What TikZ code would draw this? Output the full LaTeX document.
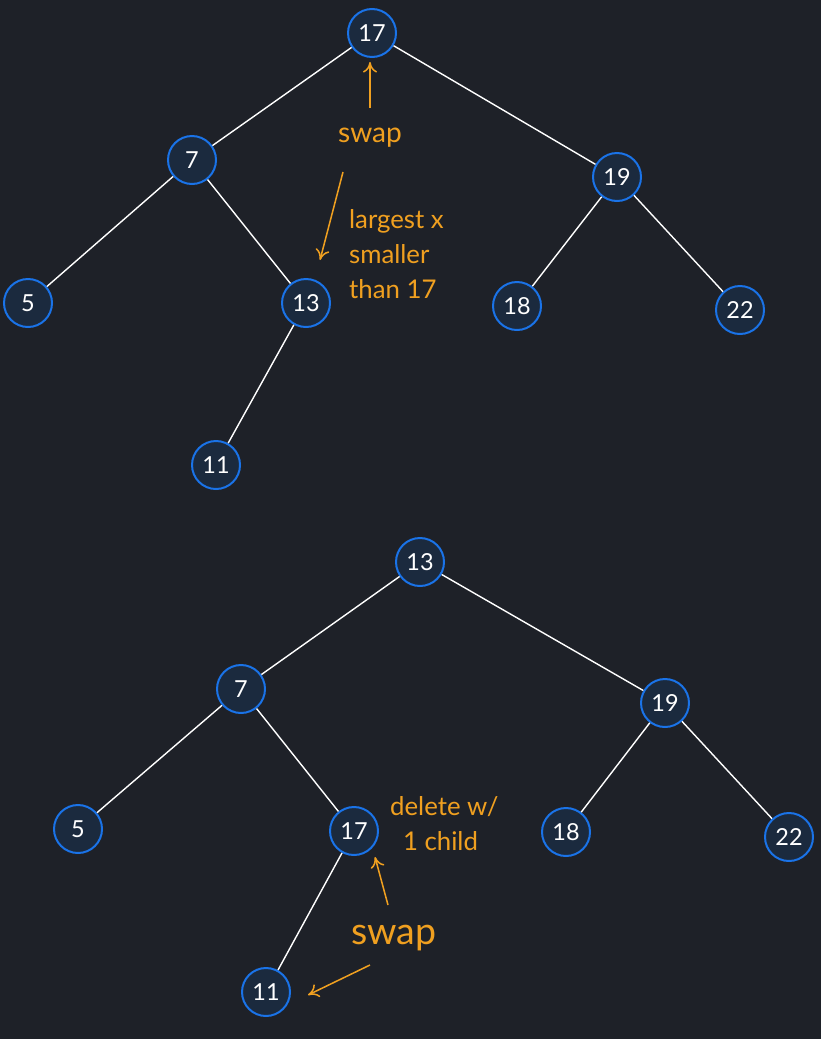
\documentclass[tikz,border=0pt]{standalone}
\usepackage{fontspec}
\setmainfont{Lato}
\usepackage{tikz}
\usetikzlibrary{arrows.meta}

\definecolor{bgdark}{HTML}{1E2128}
\definecolor{nodefill}{HTML}{1B2A3E}
\definecolor{nodeblue}{HTML}{1A73E8}
\definecolor{notecol}{HTML}{F0A020}

\tikzset{
	key/.style={circle, draw=nodeblue, fill=nodefill, line width=1.7pt, minimum size=1.44cm, inner sep=0pt, text=white, font=\fontsize{20}{24}\selectfont},
	link/.style={draw=white, line width=1.2pt},
	note/.style={text=notecol, font=\fontsize{22}{30}\selectfont, align=left},
	pointer/.style={draw=notecol, line width=1.3pt, -{To[length=9pt,width=12pt]}}
}

\begin{document}
\begin{tikzpicture}[x=0.03cm, y=-0.03cm]
	\fill[bgdark] (0,0) rectangle (821,1039);
	\useasboundingbox (0,0) rectangle (821,1039);

	% tree before deletion
	\node[key] (A17) at (372,33) {17};
	\node[key] (A7) at (192,160) {7};
	\node[key] (A19) at (617,177) {19};
	\node[key] (A5) at (28,303) {5};
	\node[key] (A13) at (306,303) {13};
	\node[key] (A18) at (517,306) {18};
	\node[key] (A22) at (740,310) {22};
	\node[key] (A11) at (216,465) {11};

	\draw[link] (A17) -- (A7);
	\draw[link] (A17) -- (A19);
	\draw[link] (A7) -- (A5);
	\draw[link] (A7) -- (A13);
	\draw[link] (A13) -- (A11);
	\draw[link] (A19) -- (A18);
	\draw[link] (A19) -- (A22);

	\node[note, font=\fontsize{24}{30}\selectfont] (swapA) at (370,138) {swap};
	\node[note, anchor=west] (largest) at (345,254) {largest x\\smaller\\than 17};
	\coordinate (upTail) at (370,108);
	\coordinate (upHead) at (370,62);
	\coordinate (downA) at (343,172);
	\coordinate (downB) at (320,260);
	\draw[pointer] (upTail) -- (upHead);
	\draw[pointer] (downA) -- (downB);

	% tree after deletion
	\node[key] (B13) at (420,562) {13};
	\node[key] (B7) at (241,689) {7};
	\node[key] (B19) at (665,703) {19};
	\node[key] (B5) at (78,829) {5};
	\node[key] (B17) at (354,831) {17};
	\node[key] (B18) at (566,832) {18};
	\node[key] (B22) at (789,837) {22};
	\node[key] (B11) at (266,992) {11};

	\draw[link] (B13) -- (B7);
	\draw[link] (B13) -- (B19);
	\draw[link] (B7) -- (B5);
	\draw[link] (B7) -- (B17);
	\draw[link] (B17) -- (B11);
	\draw[link] (B19) -- (B18);
	\draw[link] (B19) -- (B22);

	\node[note, anchor=west] (delete) at (386,824) {delete w/\\\hspace{0.5em}1 child};
	\node[note, font=\fontsize{32}{36}\selectfont] (swapB) at (394,938) {swap};
	\coordinate (upA) at (388,905);
	\coordinate (upB) at (375,857);
	\coordinate (leftA) at (370,965);
	\coordinate (leftB) at (308,995);
	\draw[pointer] (upA) -- (upB);
	\draw[pointer] (leftA) -- (leftB);
\end{tikzpicture}
\end{document}
